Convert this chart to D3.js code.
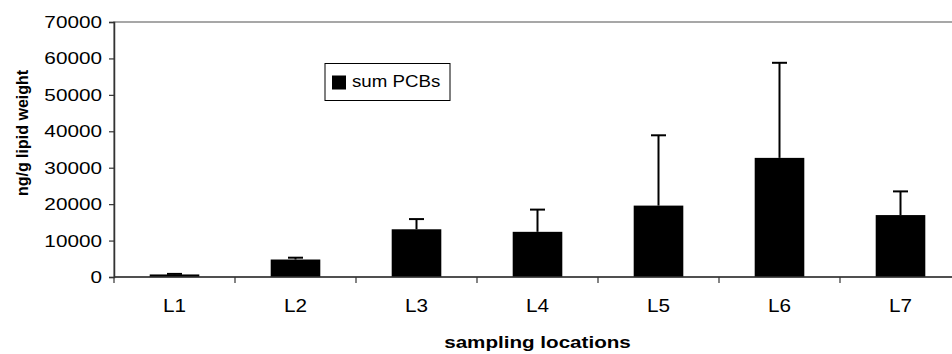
<!DOCTYPE html>
<html>
<head>
<meta charset="utf-8">
<script src="https://cdn.jsdelivr.net/npm/d3@7"></script>
<style>
  body { margin: 0; background: #fff; }
  svg { display: block; font-family: "Liberation Sans", Arial, sans-serif; }
</style>
</head>
<body>
<svg id="svg" width="952" height="354"></svg>
<script>
// data
var locations = ["L1","L2","L3","L4","L5","L6","L7"];
var sumPCBs   = [700, 4800, 13100, 12400, 19600, 32700, 17000];
var sdPCBs    = [150, 500, 2800, 6100, 19300, 26100, 6500];
var yTicks    = [0,10000,20000,30000,40000,50000,60000,70000];

var svg = d3.select("#svg");

var mLeft = 114, mTop = 22, mBottom = 277, mRight = 961,
    sx = 1.22; // text in the picture is stretched sideways

var x = d3.scaleBand().domain(locations).range([mLeft, mRight])
    .paddingInner(0.59).paddingOuter(0.295);
var y = d3.scaleLinear().domain([0, 70000]).range([mBottom, mTop]);

function stretch(s, k) {
  s.attr("transform", function() {
    var t = d3.select(this), ax = +t.attr("x") || 0, ay = +t.attr("y") || 0;
    return "translate(" + ax + "," + ay + ") scale(" + k + ",1) translate(" + (-ax) + "," + (-ay) + ")";
  });
}

// plot area border (only the top edge shows)
svg.append("rect")
    .attr("x", mLeft).attr("y", mTop).attr("width", mRight - mLeft + 20).attr("height", mBottom - mTop)
    .attr("fill", "none").attr("stroke", "#8a8a8a").attr("stroke-width", 1.5);

// bars
svg.selectAll(".bar").data(sumPCBs).enter().append("rect")
    .attr("class", "bar")
    .attr("x", (d, i) => x(locations[i]))
    .attr("y", d => y(d))
    .attr("width", x.bandwidth())
    .attr("height", d => y(0) - y(d))
    .attr("fill", "#000");

// error bars (upper only)
var eb = svg.selectAll(".err").data(sumPCBs).enter().append("g").attr("class", "err")
    .attr("stroke", "#000").attr("stroke-width", 2);
eb.append("line")
    .attr("x1", (d, i) => x(locations[i]) + x.bandwidth() / 2)
    .attr("x2", (d, i) => x(locations[i]) + x.bandwidth() / 2)
    .attr("y1", d => y(d))
    .attr("y2", (d, i) => y(d + sdPCBs[i]));
eb.append("line")
    .attr("x1", (d, i) => x(locations[i]) + x.bandwidth() / 2 - 7.5)
    .attr("x2", (d, i) => x(locations[i]) + x.bandwidth() / 2 + 7.5)
    .attr("y1", (d, i) => y(d + sdPCBs[i]))
    .attr("y2", (d, i) => y(d + sdPCBs[i]));

// y axis
var gy = svg.append("g").attr("transform", "translate(" + mLeft + ",0)")
    .call(d3.axisLeft(y).tickValues(yTicks).tickFormat(d3.format("d")).tickSize(5).tickPadding(7));
gy.select(".domain").attr("stroke", "#333").attr("stroke-width", 1.5);
gy.selectAll(".tick line").attr("stroke", "#333").attr("stroke-width", 1.2);
gy.selectAll(".tick text").attr("font-size", 17).attr("fill", "#000").call(stretch, sx);

// x axis: labels at centres, ticks at band edges
var gx = svg.append("g").attr("transform", "translate(0," + mBottom + ")")
    .call(d3.axisBottom(x).tickSize(0).tickPadding(22));
gx.select(".domain").attr("d", "M" + mLeft + ",0H" + (mRight + 20))
    .attr("stroke", "#333").attr("stroke-width", 1.5);
gx.selectAll(".tick").append("line")
    .attr("x1", -x.step() / 2).attr("x2", -x.step() / 2)
    .attr("y1", 0).attr("y2", 6)
    .attr("stroke", "#333").attr("stroke-width", 1.2);
gx.selectAll(".tick text").attr("font-size", 18).attr("fill", "#000").call(stretch, 1.15);

// axis titles
svg.append("text")
    .attr("transform", "translate(28,133) rotate(-90)")
    .attr("text-anchor", "middle").attr("font-size", 16).attr("font-weight", "bold")
    .text("ng/g lipid weight");

svg.append("text")
    .attr("x", (mLeft + mRight) / 2).attr("y", 348)
    .attr("text-anchor", "middle").attr("font-size", 16.5).attr("font-weight", "bold")
    .text("sampling locations")
    .call(stretch, 1.25);

// legend
var lg = svg.append("g").attr("transform", "translate(325,63.5)");
lg.append("rect").attr("width", 125).attr("height", 37)
    .attr("fill", "#fff").attr("stroke", "#000").attr("stroke-width", 1);
lg.append("rect").attr("x", 7).attr("y", 12).attr("width", 14).attr("height", 14).attr("fill", "#000");
lg.append("text").attr("x", 27).attr("y", 23.5).attr("font-size", 17)
    .text("sum PCBs").call(stretch, 1.1);
</script>
</body>
</html>
